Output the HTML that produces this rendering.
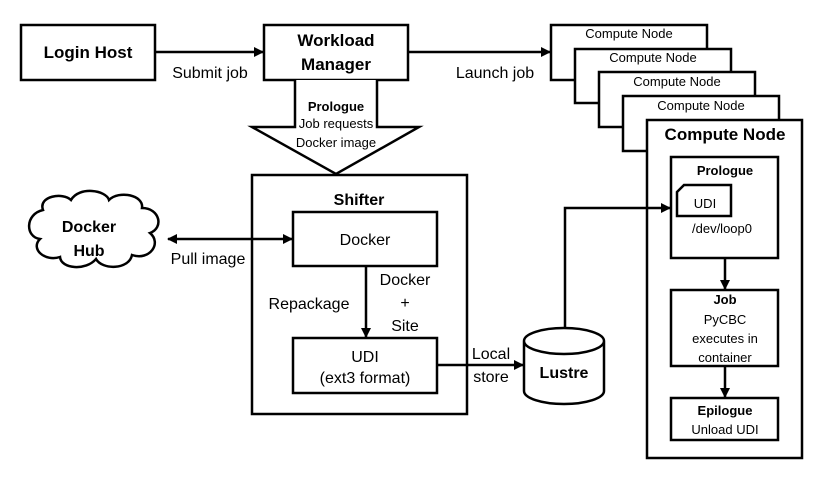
<!DOCTYPE html>
<html><head><meta charset="utf-8"><style>
body{margin:0;background:#fff}
svg text{font-family:"Liberation Sans",sans-serif;fill:#000}
</style></head><body>
<svg width="831" height="487" viewBox="0 0 831 487" xmlns="http://www.w3.org/2000/svg">
<defs><marker id="a" markerWidth="10" markerHeight="10" refX="9" refY="5" orient="auto" markerUnits="userSpaceOnUse"><path d="M0,0L10,5L0,10z" fill="#000"/></marker>
<marker id="b" markerWidth="10" markerHeight="10" refX="1" refY="5" orient="auto" markerUnits="userSpaceOnUse"><path d="M10,0L0,5L10,10z" fill="#000"/></marker></defs>
<g fill="#fff" stroke="#000" stroke-width="2.5">
<rect x="21" y="25" width="134" height="55"/>
<rect x="264" y="25" width="144" height="55"/>
<path d="M295,80V127H252L336,174L419,127H377V80"/>
<rect x="551" y="25" width="156" height="55"/>
<rect x="575" y="49" width="156" height="54"/>
<rect x="599" y="72" width="156" height="55"/>
<rect x="623" y="96" width="156" height="55"/>
<rect x="647" y="120" width="155" height="338"/>
<rect x="671" y="157" width="107" height="101"/>
<path d="M677,216V192L684,185H731V216Z"/>
<rect x="671" y="290" width="107" height="76"/>
<rect x="671" y="398" width="107" height="42"/>
<rect x="252" y="175" width="215" height="239"/>
<rect x="293" y="212" width="144" height="54"/>
<rect x="293" y="338" width="144" height="55"/>
<path d="M524,341V391A40,13 0 0 0 604,391V341A40,13 0 0 0 524,341A40,13 0 0 0 604,341"/>
<path d="M43,210c-5-14 20-18 28-10c8-14 35-10 38 0c10-10 35-5 33 8c18 0 22 20 8 25c12 10 0 28-18 22c-3 15-30 15-36 4c-10 12-35 10-36-2c-15 5-30-8-20-18c-15-2-15-25 3-29z"/>
</g>
<g stroke="#000" stroke-width="2.5" fill="none">
<line x1="155" y1="52" x2="263" y2="52" marker-end="url(#a)"/>
<line x1="408" y1="52" x2="550" y2="52" marker-end="url(#a)"/>
<line x1="168" y1="239" x2="292" y2="239" marker-start="url(#b)" marker-end="url(#a)"/>
<line x1="366" y1="266" x2="366" y2="337" marker-end="url(#a)"/>
<line x1="437" y1="365" x2="523" y2="365" marker-end="url(#a)"/>
<polyline points="565,328 565,208 670,208" marker-end="url(#a)"/>
<line x1="725" y1="258" x2="725" y2="289" marker-end="url(#a)"/>
<line x1="725" y1="366" x2="725" y2="397" marker-end="url(#a)"/>
</g>
<g font-size="16" text-anchor="middle">
<text x="88" y="58" font-weight="bold" font-size="17">Login Host</text>
<text x="336" y="46" font-weight="bold" font-size="17">Workload</text>
<text x="336" y="70" font-weight="bold" font-size="17">Manager</text>
<text x="210" y="78">Submit job</text>
<text x="495" y="78">Launch job</text>
<text x="336" y="111" font-size="13" font-weight="bold">Prologue</text>
<text x="336" y="128" font-size="13">Job requests</text>
<text x="336" y="147" font-size="13">Docker image</text>
<text x="629" y="38" font-size="13">Compute Node</text>
<text x="653" y="62" font-size="13">Compute Node</text>
<text x="677" y="86" font-size="13">Compute Node</text>
<text x="701" y="110" font-size="13">Compute Node</text>
<text x="725" y="140" font-weight="bold" font-size="17">Compute Node</text>
<text x="725" y="175" font-size="13" font-weight="bold">Prologue</text>
<text x="705" y="208" font-size="13">UDI</text>
<text x="722" y="233" font-size="13">/dev/loop0</text>
<text x="725" y="304" font-size="13" font-weight="bold">Job</text>
<text x="725" y="324" font-size="13">PyCBC</text>
<text x="725" y="343" font-size="13">executes in</text>
<text x="725" y="362" font-size="13">container</text>
<text x="725" y="415" font-size="13" font-weight="bold">Epilogue</text>
<text x="725" y="434" font-size="13">Unload UDI</text>
<text x="359" y="205" font-weight="bold">Shifter</text>
<text x="365" y="245">Docker</text>
<text x="365" y="362">UDI</text>
<text x="365" y="383">(ext3 format)</text>
<text x="309" y="309">Repackage</text>
<text x="405" y="285">Docker</text>
<text x="405" y="308">+</text>
<text x="405" y="331">Site</text>
<text x="208" y="264">Pull image</text>
<text x="89" y="232" font-weight="bold">Docker</text>
<text x="89" y="256" font-weight="bold">Hub</text>
<text x="491" y="359">Local</text>
<text x="491" y="382">store</text>
<text x="564" y="378" font-weight="bold">Lustre</text>
</g>
</svg>
</body></html>
